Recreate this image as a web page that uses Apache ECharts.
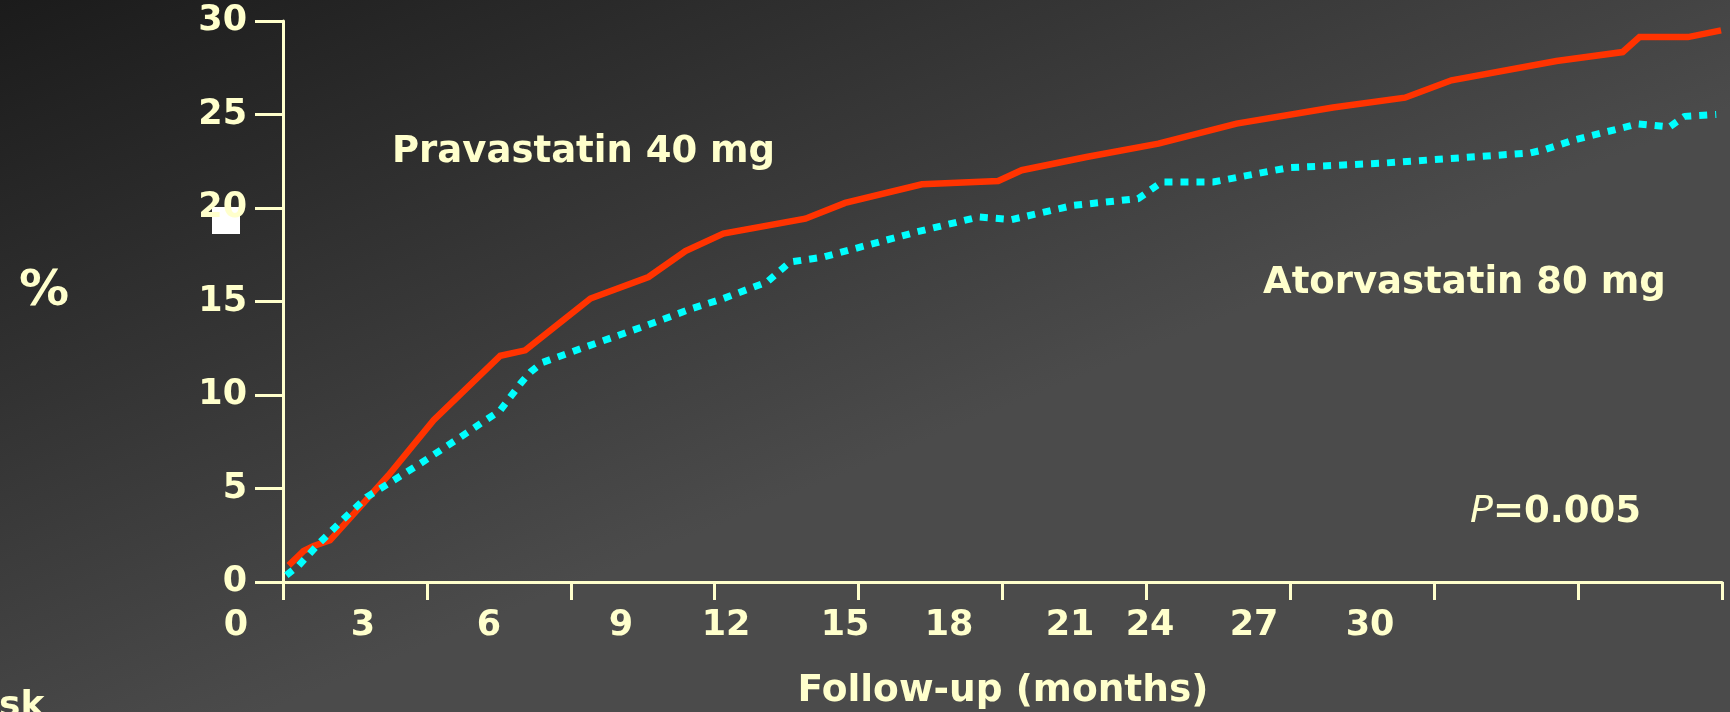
<!DOCTYPE html>
<html>
<head>
<meta charset="utf-8">
<script src="https://cdn.jsdelivr.net/npm/echarts@6/dist/echarts.min.js"></script>
<style>
  html, body { margin: 0; padding: 0; background: #333; }
  #chart { width: 1730px; height: 712px; }
</style>
</head>
<body>
<div id="chart"></div>
<script>
// Cumulative event rate (%) by follow-up month
const pravaMonths = [0.12, 0.43, 0.64, 0.98, 2.20, 3.14, 4.53, 5.05, 6.41, 7.62, 8.39, 9.18,
  10.89, 11.72, 13.32, 14.91, 15.40, 16.75, 18.25, 19.88, 21.89, 23.39, 24.36, 26.55,
  27.93, 28.28, 29.29, 29.98];
const pravaRisk = [0.89, 1.66, 1.93, 2.23, 5.71, 8.65, 12.10, 12.39, 15.16, 16.31, 17.70, 18.63,
  19.43, 20.27, 21.27, 21.44, 22.02, 22.73, 23.44, 24.51, 25.37, 25.90, 26.83, 27.86,
  28.34, 29.14, 29.14, 29.50];

const atorvaMonths = [0.07, 0.33, 0.78, 1.27, 1.75, 2.31, 2.86, 3.70, 4.53, 4.95, 5.16, 5.40,
  6.34, 7.59, 8.52, 9.18, 10.09, 10.57, 11.27, 13.21, 14.50, 15.19, 16.48, 17.83,
  18.32, 19.39, 20.68, 20.99, 23.00, 25.99, 26.30, 26.89, 28.25, 28.90, 29.22, 29.88];
const atorvaRisk = [0.36, 0.89, 2.14, 3.39, 4.55, 5.44, 6.33, 7.75, 9.18, 10.61, 11.23, 11.73,
  12.60, 13.73, 14.62, 15.16, 16.04, 17.11, 17.38, 18.72, 19.52, 19.38, 20.14, 20.50,
  21.39, 21.39, 22.02, 22.16, 22.41, 22.94, 23.12, 23.62, 24.50, 24.33, 24.90, 25.00];

const seriesNames = ['Pravastatin 40 mg', 'Atorvastatin 80 mg'];
const xTickLabels = ['0', '3', '6', '9', '12', '15', '18', '21', '24', '27', '30'];
const xAxisTitle = 'Follow-up (months)';
const yAxisTitle = '%';
const pValueText = '=0.005';

// horizontal centres of the month labels under the axis (layout)
const xTickLabelX = [236, 363, 489, 621, 726, 845, 949, 1070, 1150, 1254, 1370];

const INK = '#ffffcc';
const FONT = 'DejaVu Sans';

const zip = (xs, ys) => xs.map((x, i) => [x, ys[i]]);

const chart = echarts.init(document.getElementById('chart'), null, { renderer: 'canvas' });

function textEl(text, x, y, size, align) {
  return {
    type: 'text', x: x, y: y, z: 10,
    style: {
      text: text,
      fill: INK,
      font: 'bold ' + size + 'px "' + FONT + '"',
      textAlign: align || 'left',
      textVerticalAlign: 'middle'
    }
  };
}

const graphics = [];
// small white marker by the 20 % tick
graphics.push({
  type: 'rect', z: -5,
  shape: { x: 212, y: 207, width: 28, height: 27 },
  style: { fill: '#ffffff' }
});
xTickLabels.forEach((t, i) => {
  graphics.push(textEl(t, xTickLabelX[i], 626, 35, 'center'));
});
graphics.push(textEl(seriesNames[0], 392, 152, 37));
graphics.push(textEl(seriesNames[1], 1263, 283, 37));
graphics.push(textEl(xAxisTitle, 1003, 691, 37.5, 'center'));
graphics.push(textEl(yAxisTitle, 44, 292, 50, 'center'));
graphics.push(textEl('sk', -1, 707, 36));
graphics.push({
  type: 'text', x: 1470, y: 512, z: 10,
  style: {
    text: '{i|P}' + pValueText,
    fill: INK,
    font: 'bold 37px "' + FONT + '"',
    textVerticalAlign: 'middle',
    rich: {
      i: { fontStyle: 'italic', fontWeight: 'normal', fontSize: 38, fontFamily: FONT, fill: INK, color: INK }
    }
  }
});

chart.setOption({
  animation: false,
  backgroundColor: {
    type: 'linear', x: 0, y: 0, x2: 0.167, y2: 0.987,
    colorStops: [
      { offset: 0, color: '#1b1b1b' },
      { offset: 1, color: '#4b4b4b' }
    ]
  },
  grid: { left: 283, right: 8, top: 21, bottom: 130, containLabel: false },
  xAxis: {
    type: 'value', min: 0, max: 30, interval: 3,
    axisLine: { show: true, onZero: true, lineStyle: { color: INK, width: 3 } },
    axisTick: { show: true, length: 18, lineStyle: { color: INK, width: 3 } },
    axisLabel: { show: false },
    splitLine: { show: false }
  },
  yAxis: {
    type: 'value', min: 0, max: 30, interval: 5,
    axisLine: { show: true, lineStyle: { color: INK, width: 3 } },
    axisTick: { show: true, length: 28, lineStyle: { color: INK, width: 3 } },
    axisLabel: {
      show: true, margin: 36, color: INK,
      fontFamily: FONT, fontWeight: 'bold', fontSize: 35
    },
    splitLine: { show: false }
  },
  graphic: graphics,
  series: [
    {
      name: seriesNames[0], type: 'line',
      data: zip(pravaMonths, pravaRisk),
      showSymbol: false, smooth: false,
      lineStyle: { color: '#ff3300', width: 6.5, join: 'miter' },
      z: 3
    },
    {
      name: seriesNames[1], type: 'line',
      data: zip(atorvaMonths, atorvaRisk),
      showSymbol: false, smooth: false,
      lineStyle: { color: '#00ffff', width: 7, type: [8, 8], cap: 'butt' },
      z: 4
    }
  ]
});
</script>
</body>
</html>
